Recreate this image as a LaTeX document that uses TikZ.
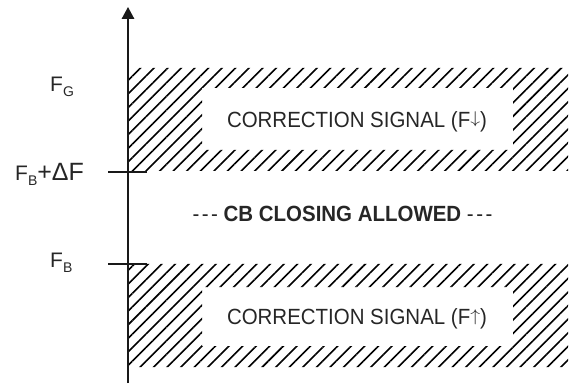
\documentclass[tikz,border=0pt]{standalone}
\usepackage{fontspec}
\setmainfont{Liberation Sans}
\newfontfamily\zonefont[FakeStretch=0.93]{Liberation Sans}
\usetikzlibrary{arrows.meta,patterns.meta}
\newcommand{\dnarrow}{\scalebox{0.95}[0.82]{\raisebox{0.194em}{$\downarrow$}}}
\newcommand{\uparrowglyph}{\scalebox{0.95}[0.82]{\raisebox{0.194em}{$\uparrow$}}}
\newcommand{\tri}{-\kern2.5pt-\kern2.5pt-}
\tikzset{
  hatch/.style={pattern={Lines[angle=45,distance=9.6pt,line width=1.6pt]},pattern color=black},
  axisline/.style={line width=1.5pt,black!90},
  tick/.style={line width=1.5pt,black!90},
  lbl/.style={inner sep=0pt,anchor=base west,text=black!85,font=\fontsize{21}{24}\selectfont},
  zone/.style={inner sep=0pt,anchor=base,text=black!85,font=\zonefont\fontsize{22}{25}\selectfont},
}
\begin{document}
\begin{tikzpicture}[x=1pt,y=-1pt]
\useasboundingbox (0,0) rectangle (571,385);
% hatched bands with a clear window for the text
\fill[hatch,even odd rule] (128,68) rectangle (568,171) (202,88) rectangle (513,150);
\fill[hatch,even odd rule] (128,264) rectangle (568,367) (202,287) rectangle (513,346);
% vertical axis
\coordinate (a0) at (128,383);
\coordinate (a1) at (128,7);
\draw[axisline,-{Triangle[length=12pt,width=12.5pt]}] (a0) -- (a1);
% level ticks
\coordinate (t1l) at (108,172); \coordinate (t1r) at (147,172);
\coordinate (t2l) at (108,264); \coordinate (t2r) at (147,264);
\draw[tick] (t1l) -- (t1r);
\draw[tick] (t2l) -- (t2r);
% level labels
\node[lbl] (fg) at (50,92) {F\raisebox{-5pt}{\fontsize{14}{16}\selectfont G}};
\node[lbl] (fbd) at (15,180.5) {F\raisebox{-5pt}{\fontsize{14}{16}\selectfont B}{\fontsize{25}{27}\selectfont +ΔF}};
\node[lbl] (fb) at (50,268) {F\raisebox{-5pt}{\fontsize{14}{16}\selectfont B}};
% zone texts
\node[zone] (up) at (357,127.5) {CORRECTION SIGNAL (F\dnarrow)};
\node[zone] (mid) at (342.5,222) {\tri{} \textbf{CB CLOSING ALLOWED} \tri};
\node[zone] (dn) at (357,324.5) {CORRECTION SIGNAL (F\uparrowglyph)};
\end{tikzpicture}
\end{document}
